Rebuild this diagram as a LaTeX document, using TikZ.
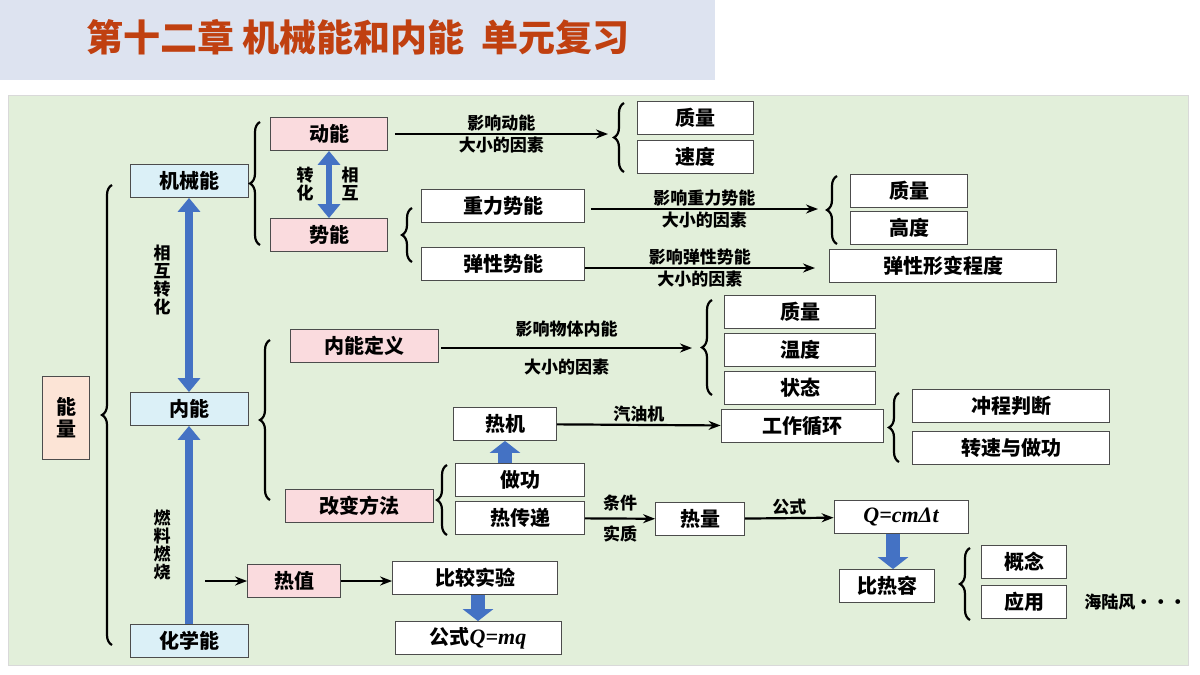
\documentclass[tikz,border=0pt]{standalone}
\usepackage{fontspec}
\setmainfont{Noto Sans CJK SC}
\newfontfamily\formulafont{Liberation Serif}
\usepackage{tikz}
\definecolor{titlebg}{RGB}{221, 227, 240}
\definecolor{titlered}{RGB}{192, 64, 16}
\definecolor{panelgreen}{RGB}{226, 239, 218}
\definecolor{pinkbox}{RGB}{250, 219, 222}
\definecolor{cyanbox}{RGB}{219, 240, 247}
\definecolor{peachbox}{RGB}{252, 228, 214}
\definecolor{arrowblue}{RGB}{68, 114, 196}
\usetikzlibrary{arrows.meta, positioning, decorations.pathreplacing, calc}

\begin{document}
\begin{tikzpicture}[
    x=0.5pt, y=-0.5pt,
    box/.style={rectangle, draw=black!70, fill=white, minimum height=16.5pt, inner sep=1pt, font=\bfseries\fontsize{10}{11}\selectfont},
    pinkb/.style={box, fill=pinkbox},
    cyanb/.style={box, fill=cyanbox},
    brc/.style={decorate, decoration={brace, amplitude=5pt}, line width=1.1pt},
    arrow/.style={-{Stealth[length=6pt]}, line width=1.1pt},
    lbl/.style={font=\bfseries\fontsize{8.5}{9}\selectfont, inner sep=1pt},
    bigarrow/.style={draw=arrowblue, line width=4pt, -{Triangle[width=11pt,length=7pt]}},
    bigdouble/.style={draw=arrowblue, line width=4pt, {Triangle[width=11pt,length=7pt]}-{Triangle[width=11pt,length=7pt]}},
    blockarrow/.style={draw=arrowblue, line width=7pt, -{Triangle[width=15pt,length=6pt]}}
]
    \useasboundingbox (0,0) rectangle (1200,675);
    % Title and panel
    \fill[titlebg] (0,0) rectangle (715,80);
    \node[font=\bfseries\fontsize{18.5}{20}\selectfont, text=titlered] (title) at (358,37) {第十二章 机械能和内能\ \ 单元复习};
    \draw[black!15, fill=panelgreen] (8,95) rectangle (1188,665);

    % Left column
    \node[box, fill=peachbox, minimum width=23.5pt, minimum height=41.5pt, align=center] (energy) at (66,418) {能\\量};
    \node[cyanb, minimum width=59pt] (mech) at (189,181) {机械能};
    \node[cyanb, minimum width=59pt] (inner) at (189,409) {内能};
    \node[cyanb, minimum width=59pt] (chem) at (189,641) {化学能};
    \draw[brc] (112,645) -- (112,185);
    \draw[bigdouble] (mech) -- (inner);
    \node[lbl, align=center] (mutual) at (162,280) {相\\互\\转\\化};
    \draw[bigarrow] (chem) -- (inner);
    \node[lbl, align=center] (burn) at (162,545) {燃\\料\\燃\\烧};

    % Mechanical energy
    \node[pinkb, minimum width=58.5pt] (kin) at (329,134) {动能};
    \node[pinkb, minimum width=58.5pt] (pot) at (329,235) {势能};
    \draw[brc] (260,245) -- (260,122);
    \draw[bigdouble, line width=3pt] (kin) -- (pot);
    \node[lbl, align=center] (zh) at (305,184) {转\\化};
    \node[lbl, align=center] (xh) at (350,184) {相\\互};
    \coordinate (kinend) at (608,134);
    \draw[arrow] (kin.east) ++(7,0) -- node[lbl, above] {影响动能} node[lbl, below] {大小的因素} (kinend);
    \draw[brc] (624,172) -- (624,103);
    \node[box, minimum width=58pt] (kmass) at (695,118) {质量};
    \node[box, minimum width=58pt] (kspeed) at (695,157) {速度};

    \node[box, minimum width=81.5pt] (grav) at (503,206) {重力势能};
    \node[box, minimum width=81.5pt] (elas) at (503,264) {弹性势能};
    \draw[brc] (412,262) -- (412,208);
    \coordinate (gravend) at (818,209);
    \draw[arrow] (grav.east) ++(6,3) -- node[lbl, above] {影响重力势能} node[lbl, below] {大小的因素} (gravend);
    \draw[brc] (837,244) -- (837,176);
    \node[box, minimum width=58.5pt] (gmass) at (909,191) {质量};
    \node[box, minimum width=58.5pt] (gheight) at (909,228) {高度};
    \coordinate (elasend) at (815,268);
    \draw[arrow] (elas.east) ++(0,4) -- node[lbl, above] {影响弹性势能} node[lbl, below] {大小的因素} (elasend);
    \node[box, minimum width=113.5pt] (deform) at (943,266) {弹性形变程度};

    % Internal energy
    \draw[brc] (270,500) -- (270,340);
    \node[pinkb, minimum width=74pt] (idef) at (364,346) {内能定义};
    \coordinate (idefend) at (692,348);
    \draw[arrow] (idef.east) ++(3,2) -- node[lbl, above=4pt] {影响物体内能} node[lbl, below=4pt] {大小的因素} (idefend);
    \draw[brc] (712,395) -- (712,300);
    \node[box, minimum width=75.5pt] (imass) at (800,312) {质量};
    \node[box, minimum width=75.5pt] (itemp) at (800,350) {温度};
    \node[box, minimum width=75.5pt] (istate) at (800,388) {状态};

    \node[box, minimum width=51.5pt] (engine) at (505,424) {热机};
    \node[box, minimum width=81pt] (cycle) at (802,426) {工作循环};
    \draw[arrow] (engine) -- node[lbl, above] {汽油机} (cycle);
    \draw[brc] (899,462) -- (899,393);
    \node[box, minimum width=98.5pt] (stroke) at (1011,406) {冲程判断};
    \node[box, minimum width=98.5pt] (speed) at (1011,448) {转速与做功};

    \node[pinkb, minimum width=74pt] (change) at (359,506) {改变方法};
    \draw[brc] (447,535) -- (447,465);
    \node[box, minimum width=64.5pt] (work) at (520,480) {做功};
    \node[box, minimum width=64.5pt] (transfer) at (520,518) {热传递};
    \draw[blockarrow] (work.north -| engine) -- (engine.south);
    \node[box, minimum width=44.5pt] (heat) at (700,519) {热量};
    \draw[arrow] (transfer) -- node[lbl, above, yshift=2pt] {条件} node[lbl, below, yshift=-2pt] {实质} (heat);
    \node[box, minimum width=67pt, font=\formulafont\bfseries\itshape\fontsize{11}{12}\selectfont] (formula) at (901,517) {Q=cmΔt};
    \draw[arrow] (heat) -- node[lbl, above] {公式} (formula);
    \node[box, minimum width=47.5pt] (spec) at (887,586) {比热容};
    \draw[blockarrow] (formula.south -| 893,0) -- (spec.north -| 893,0);
    \draw[brc] (970,620) -- (970,548);
    \node[box, minimum width=42.5pt] (concept) at (1024,562) {概念};
    \node[box, minimum width=42.5pt] (apply) at (1024,602) {应用};
    \node[lbl, anchor=west] (breeze) at (1082,602) {海陆风···};

    % Chemical energy
    \node[pinkb, minimum width=46.5pt] (hval) at (294,581) {热值};
    \coordinate (burnstart) at (205,581);
    \draw[arrow] (burnstart) -- (hval);
    \node[box, minimum width=82.5pt] (compare) at (475,578) {比较实验};
    \draw[arrow] (hval.east) -- (hval.east -| compare.west);
    \node[box, minimum width=83pt] (qmq) at (478,638) {公式{\formulafont\itshape\fontsize{11}{12}\selectfont Q=mq}};
    \draw[blockarrow] (compare.south -| qmq) -- (qmq.north);
\end{tikzpicture}
\end{document}
